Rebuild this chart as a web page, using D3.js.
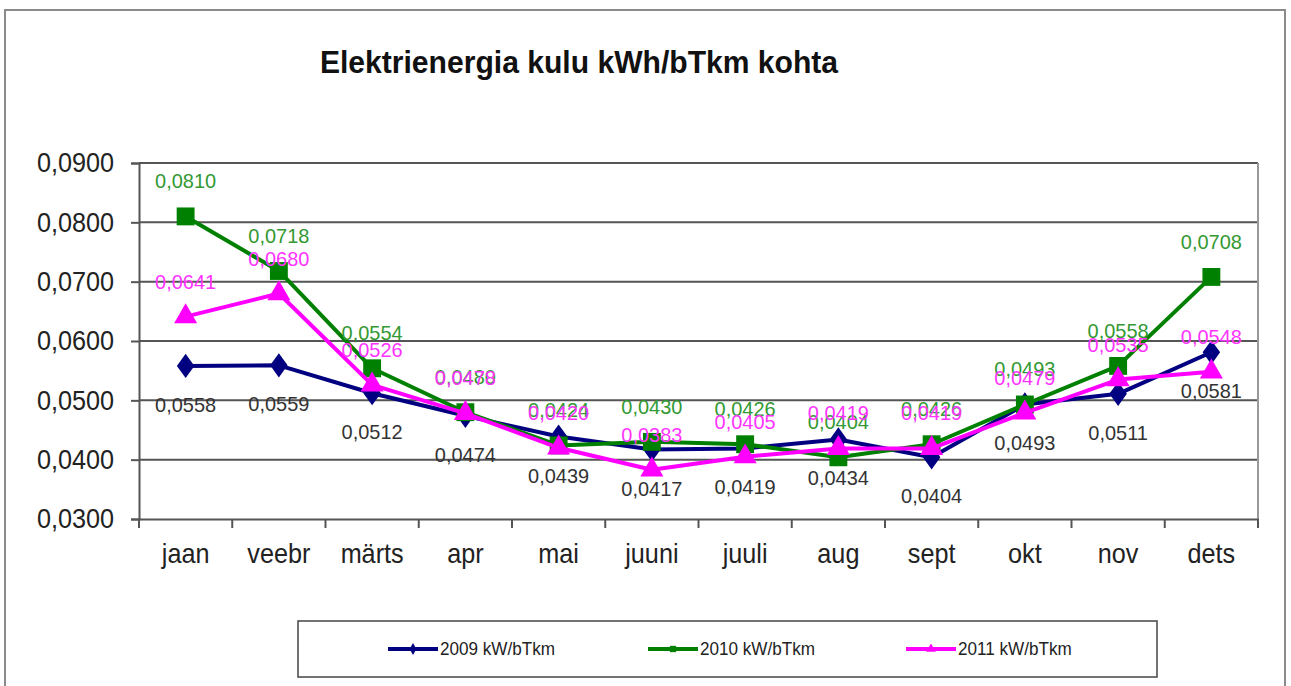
<!DOCTYPE html>
<html>
<head>
<meta charset="utf-8">
<script src="https://cdn.jsdelivr.net/npm/d3@7"></script>
<style>
  body { margin: 0; background: #fff; }
  text { font-family: "Liberation Sans", Arial, sans-serif; }
</style>
</head>
<body>
<svg id="chart" width="1291" height="686"></svg>
<script>
const months = ["jaan", "veebr", "märts", "apr", "mai", "juuni", "juuli", "aug", "sept", "okt", "nov", "dets"];
const values2009 = [0.0558, 0.0559, 0.0512, 0.0474, 0.0439, 0.0417, 0.0419, 0.0434, 0.0404, 0.0493, 0.0511, 0.0581];
const values2010 = [0.0810, 0.0718, 0.0554, 0.0480, 0.0424, 0.0430, 0.0426, 0.0404, 0.0426, 0.0493, 0.0558, 0.0708];
const values2011 = [0.0641, 0.0680, 0.0526, 0.0478, 0.0420, 0.0383, 0.0405, 0.0419, 0.0419, 0.0479, 0.0535, 0.0548];
const yTicks = [0.03, 0.04, 0.05, 0.06, 0.07, 0.08, 0.09];
const seriesNames = ["2009 kW/bTkm", "2010 kW/bTkm", "2011 kW/bTkm"];

const series = [
  {name: seriesNames[0], values: values2009, color: "#000080", labelColor: "#333333", marker: d3.symbolDiamond, size: 170, labelDy: 46},
  {name: seriesNames[1], values: values2010, color: "#008000", labelColor: "#339933", marker: d3.symbolSquare, size: 320, labelDy: -28},
  {name: seriesNames[2], values: values2011, color: "#ff00ff", labelColor: "#ff33ff", marker: d3.symbolTriangle, size: 230, labelDy: -28}
];

const svg = d3.select("#chart");
const fmt = v => d3.format(".4f")(v).replace(".", ",");

// the original uses a slightly condensed font, squeeze text horizontally
function squeeze(sel, f) {
  sel.each(function() {
    const w = this.getComputedTextLength();
    d3.select(this).attr("textLength", w * f).attr("lengthAdjust", "spacingAndGlyphs");
  });
}

// outer frame
svg.append("rect")
    .attr("x", 5).attr("y", 10)
    .attr("width", 1280).attr("height", 700)
    .attr("fill", "none")
    .attr("stroke", "#8a8a8a")
    .attr("stroke-width", 2);

// title
svg.append("text")
    .attr("x", 579).attr("y", 73)
    .attr("text-anchor", "middle")
    .attr("font-size", 32)
    .attr("font-weight", "bold")
    .attr("fill", "#111")
    .text("Elektrienergia kulu kWh/bTkm kohta")
    .call(squeeze, 0.94);

const plotLeft = 139, plotRight = 1258, plotTop = 163, plotBottom = 519;

const x = d3.scaleBand().domain(months).range([plotLeft, plotRight]);
const y = d3.scaleLinear().domain([0.03, 0.09]).range([plotBottom, plotTop]);

// gridlines
svg.append("g")
    .selectAll("line")
    .data(yTicks.slice(1))
    .join("line")
    .attr("x1", plotLeft).attr("x2", plotRight)
    .attr("y1", d => y(d)).attr("y2", d => y(d))
    .attr("stroke", "#555")
    .attr("stroke-width", 2);

// right border of plot
svg.append("line")
    .attr("x1", plotRight).attr("x2", plotRight)
    .attr("y1", plotTop).attr("y2", plotBottom)
    .attr("stroke", "#999").attr("stroke-width", 2);

// y axis
const yAxis = svg.append("g")
    .attr("transform", "translate(" + plotLeft + ",0)")
    .call(d3.axisLeft(y).tickValues(yTicks).tickFormat(fmt).tickSize(8).tickPadding(17));
yAxis.select(".domain").attr("stroke", "#555").attr("stroke-width", 2);
yAxis.selectAll(".tick line").attr("stroke", "#555").attr("stroke-width", 2);
yAxis.selectAll("text")
    .attr("font-size", 28)
    .attr("fill", "#222")
    .style("font-family", "'Liberation Sans', Arial, sans-serif")
    .call(squeeze, 0.9);

// x axis
const xAxis = svg.append("g")
    .attr("transform", "translate(0," + plotBottom + ")")
    .call(d3.axisBottom(x).tickSize(0).tickPadding(24));
xAxis.select(".domain").attr("stroke", "#555").attr("stroke-width", 2);
xAxis.selectAll("text")
    .attr("font-size", 28)
    .attr("fill", "#222")
    .style("font-family", "'Liberation Sans', Arial, sans-serif")
    .call(squeeze, 0.9);
svg.append("g")
    .selectAll("line")
    .data(months)
    .join("line")
    .attr("x1", d => x(d)).attr("x2", d => x(d))
    .attr("y1", plotBottom).attr("y2", plotBottom + 9)
    .attr("stroke", "#555").attr("stroke-width", 2);
svg.append("line")
    .attr("x1", plotRight).attr("x2", plotRight)
    .attr("y1", plotBottom).attr("y2", plotBottom + 9)
    .attr("stroke", "#555").attr("stroke-width", 2);

const cx = m => x(m) + x.bandwidth() / 2;
const line = d3.line()
    .x((d, i) => cx(months[i]))
    .y(d => y(d));

// lines and markers
series.forEach(s => {
  const g = svg.append("g");
  g.append("path")
      .datum(s.values)
      .attr("d", line)
      .attr("fill", "none")
      .attr("stroke", s.color)
      .attr("stroke-width", 4)
      .attr("stroke-linejoin", "round");
  g.selectAll("path.marker")
      .data(s.values)
      .join("path")
      .attr("class", "marker")
      .attr("transform", (d, i) => "translate(" + cx(months[i]) + "," + y(d) + ")" + (s.marker === d3.symbolDiamond ? " scale(1.25,1)" : ""))
      .attr("d", d3.symbol().type(s.marker).size(s.size))
      .attr("fill", s.color);
});

// data labels
series.forEach(s => {
  svg.append("g")
      .selectAll("text")
      .data(s.values)
      .join("text")
      .attr("x", (d, i) => cx(months[i]))
      .attr("y", d => y(d) + s.labelDy)
      .attr("text-anchor", "middle")
      .attr("font-size", 21)
      .attr("fill", s.labelColor)
      .text(fmt)
      .call(squeeze, 0.95);
});

// legend
const legend = svg.append("g");
legend.append("rect")
    .attr("x", 298).attr("y", 621)
    .attr("width", 859).attr("height", 56)
    .attr("fill", "#fff")
    .attr("stroke", "#444")
    .attr("stroke-width", 1.5);
const legendTextX = [440, 700, 958];
series.forEach((s, i) => {
  const lg = legend.append("g").attr("transform", "translate(" + legendTextX[i] + ",649)");
  lg.append("line")
      .attr("x1", -52).attr("x2", -2)
      .attr("stroke", s.color).attr("stroke-width", 4);
  lg.append("path")
      .attr("transform", "translate(-27,0)")
      .attr("d", d3.symbol().type(s.marker).size(40))
      .attr("fill", s.color);
  lg.append("text")
      .attr("x", 0).attr("y", 6)
      .attr("font-size", 18)
      .attr("fill", "#222")
      .text(s.name)
      .call(squeeze, 0.95);
});
</script>
</body>
</html>
